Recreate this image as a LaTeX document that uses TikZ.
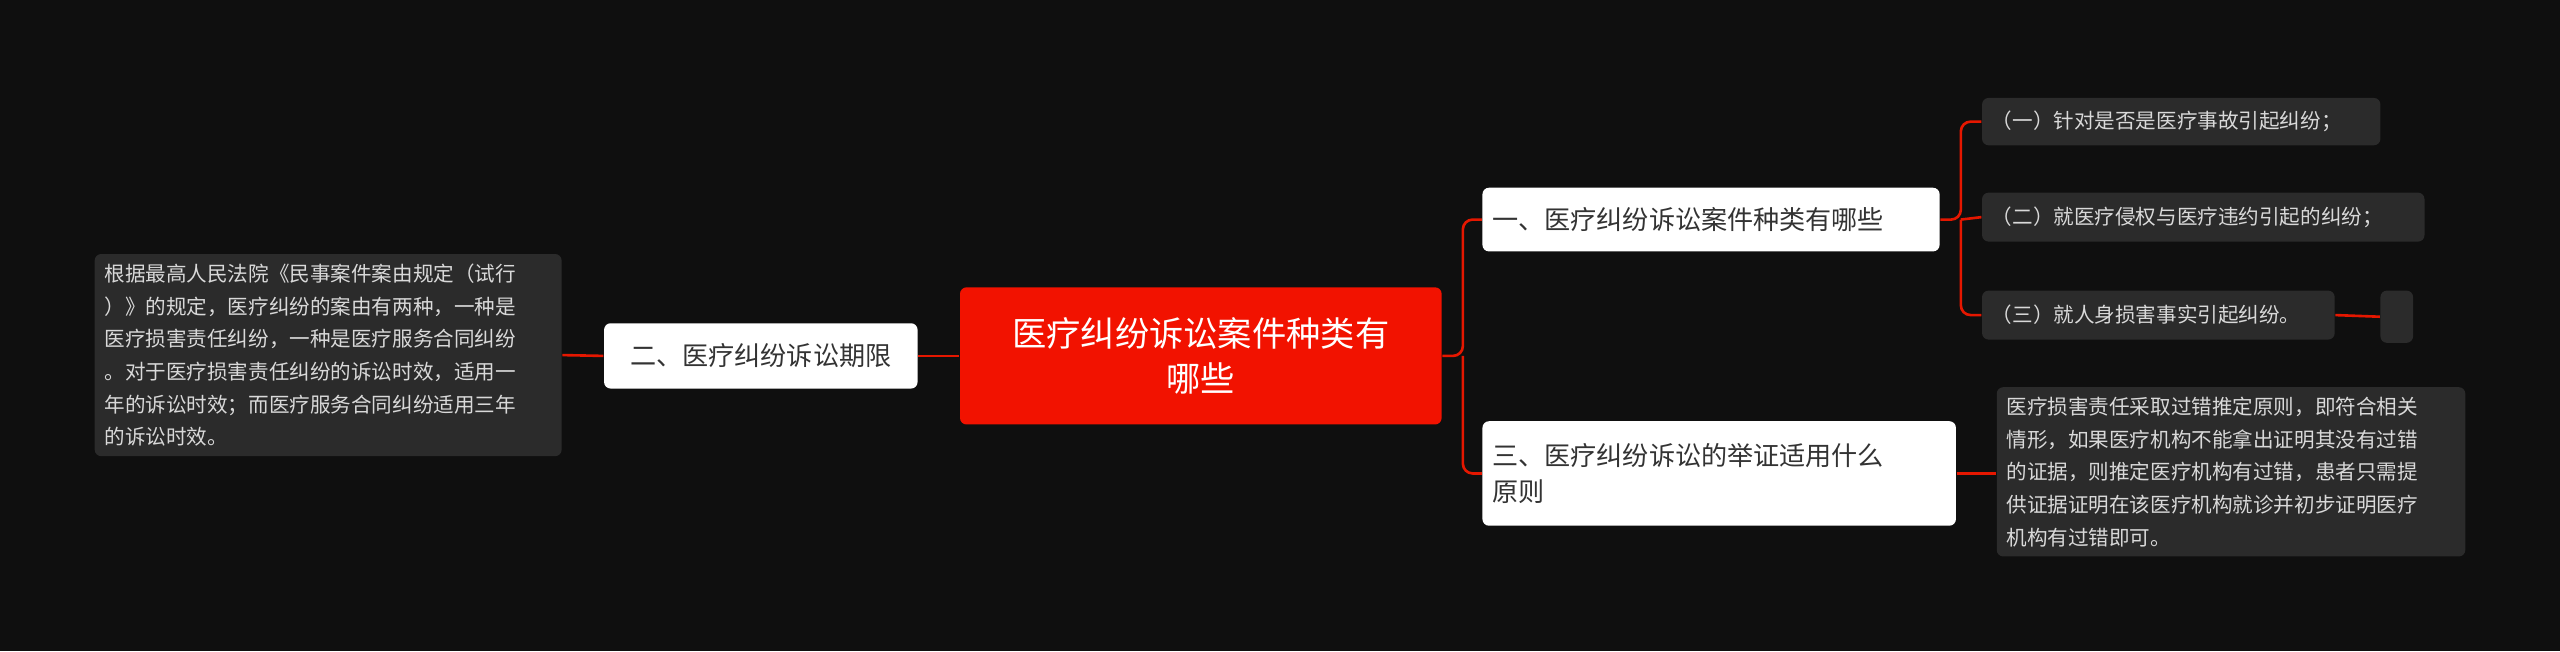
\documentclass[tikz,border=0pt]{standalone}
\usepackage{fontspec}
\setmainfont{Noto Sans CJK SC}
\begin{document}
\begin{tikzpicture}[x=0.5pt,y=-0.5pt,
  box/.style={rounded corners=2pt,inner sep=3pt,align=left,anchor=center},
  wbox/.style={box,fill=white,text=black!80,font=\fontsize{8}{11}\selectfont},
  dbox/.style={box,fill=black!83,text=black!15,font=\fontsize{6.3}{10}\selectfont},
  conn/.style={draw=red!80!orange!90!black,line width=0.8pt,rounded corners=3pt}]
\fill[black!94] (0,0) rectangle (1568,399);
\useasboundingbox (0,0) rectangle (1568,399);
\node[box,fill=red!85!orange!95!black,text=white,minimum width=147.5pt,minimum height=42pt,align=center,font=\fontsize{10.5}{14}\selectfont] (root) at (735.5,218) {医疗纠纷诉讼案件种类有\\哪些};
\node[wbox,minimum width=96pt,minimum height=20pt,align=center] (left) at (466,218) {二、医疗纠纷诉讼期限};
\node[dbox,text width=137pt,minimum height=59.5pt] (far) at (201,217.5) {根据最高人民法院《民事案件案由规定（试行\\）》的规定，医疗纠纷的案由有两种，一种是\\医疗损害责任纠纷，一种是医疗服务合同纠纷\\。对于医疗损害责任纠纷的诉讼时效，适用一\\年的诉讼时效；而医疗服务合同纠纷适用三年\\的诉讼时效。};
\node[wbox,text width=134pt,minimum height=19.5pt] (r1) at (1048,134.5) {一、医疗纠纷诉讼案件种类有哪些};
\node[wbox,text width=139pt,minimum height=32pt] (r2) at (1053,290) {三、医疗纠纷诉讼的举证适用什么\\原则};
\node[dbox,text width=116pt,minimum height=14.5pt] (l1) at (1336,74.5) {（一）针对是否是医疗事故引起纠纷；};
\node[dbox,text width=129.5pt,minimum height=15pt] (l2) at (1349.5,133) {（二）就医疗侵权与医疗违约引起的纠纷；};
\node[dbox,text width=102pt,minimum height=15pt] (l3) at (1322,193) {（三）就人身损害事实引起纠纷。};
\node[dbox,minimum width=10pt,minimum height=16pt] (sm) at (1468,194) {};
\node[dbox,text width=137.5pt,minimum height=51pt] (l4) at (1366.5,289) {医疗损害责任采取过错推定原则，即符合相关\\情形，如果医疗机构不能拿出证明其没有过错\\的证据，则推定医疗机构有过错，患者只需提\\供证据证明在该医疗机构就诊并初步证明医疗\\机构有过错即可。};
\coordinate (j1) at (896,218);
\coordinate (j2) at (1201,134.5);
\draw[conn] (root.east) -- (j1) |- (r1.west);
\draw[conn] (j1) |- (r2.west);
\draw[conn] (root.west) -- (left.east);
\draw[conn] (left.west) -- (far.east);
\draw[conn] (r1.east) -- (j2) |- (l1.west);
\draw[conn] (j2) -- (l2.west);
\draw[conn] (j2) |- (l3.west);
\draw[conn] (l3.east) -- (sm.west);
\draw[conn] (r2.east) -- (l4.west|-r2.east);
\end{tikzpicture}
\end{document}
